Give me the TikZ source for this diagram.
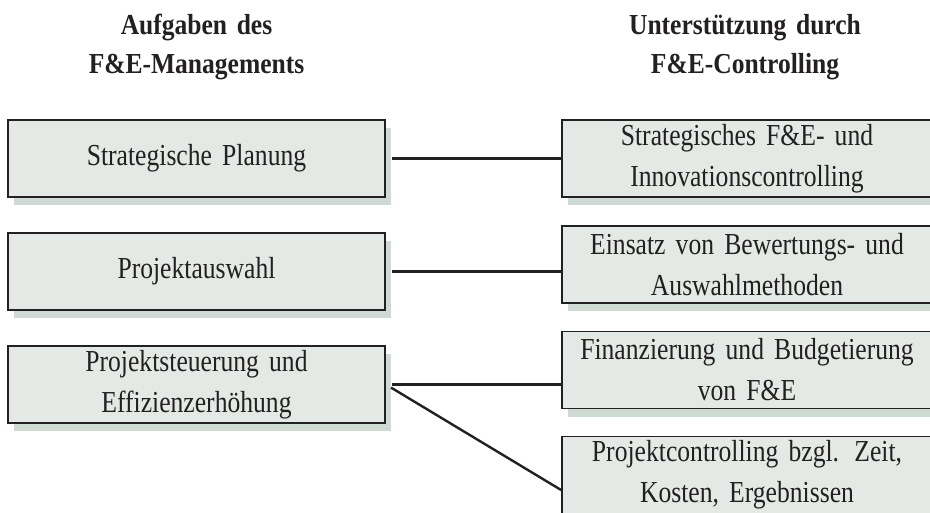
\documentclass[tikz,border=0pt]{standalone}
\usepackage{fontspec}
\setmainfont[FakeStretch=0.84, WordSpace=0.75]{Liberation Serif}
\newfontfamily\headfont[FakeStretch=0.88, WordSpace=0.8]{Liberation Serif}
\usetikzlibrary{shadows}

\definecolor{boxgrey}{RGB}{228,233,230}
\definecolor{shadowgrey}{RGB}{208,218,213}
\definecolor{ink}{RGB}{34,32,32}

\tikzstyle{box} = [draw=ink, rectangle, line width=1.8pt, fill=boxgrey, text=ink, text centered, minimum height=77pt, inner sep=0pt, font=\fontsize{30.5}{41}\selectfont, drop shadow={shadow xshift=6pt, shadow yshift=-8pt, opacity=1, fill=shadowgrey}]
\tikzstyle{leftbox} = [box, minimum width=377pt, text width=370pt]
\tikzstyle{rightbox} = [box, minimum width=370pt, text width=362pt]
\tikzstyle{head} = [text=ink, text centered, text width=360pt, font=\headfont\fontsize{29}{39}\selectfont\bfseries]
\tikzstyle{line} = [draw=ink, line width=2.4pt, shorten <=6pt]

\begin{document}
\begin{tikzpicture}[x=1pt, y=-1pt]
	\useasboundingbox (0,0) rectangle (930,513);
	\clip (0,0) rectangle (930,513);

	\node [head] (mgmt) at (196.5,47) {Aufgaben des\\F\&E-Managements};
	\node [head] (ctrl) at (745,47) {Unterstützung durch\\F\&E-Controlling};

	% tasks
	\node [leftbox] (plan) at (196.5,158.5) {Strategische Planung};
	\node [leftbox, below of=plan, node distance=113pt] (wahl) {Projektauswahl};
	\node [leftbox, below of=wahl, node distance=113pt] (steu) {Projektsteuerung und\\Effizienzerhöhung};

	% support
	\node [rightbox] (strat) at (747,158.5) {Strategisches F\&E- und\\Innovationscontrolling};
	\node [rightbox, below of=strat, node distance=106pt] (bew) {Einsatz von Bewertungs- und\\Auswahlmethoden};
	\node [rightbox, below of=bew, node distance=105.5pt] (fin) {Finanzierung und Budgetierung\\von F\&E};
	\node [rightbox, below of=fin, node distance=105pt] (pc) {Projektcontrolling bzgl. Zeit,\\Kosten, Ergebnissen};

	\draw [line] (plan.east) -- (strat.west);
	\draw [line] (wahl.east) -- (wahl.east -| bew.west);
	\draw [line] (steu.east) -- (steu.east -| fin.west);
	\draw [line] (steu.east) -- ([yshift=-15pt]pc.west);
\end{tikzpicture}
\end{document}
